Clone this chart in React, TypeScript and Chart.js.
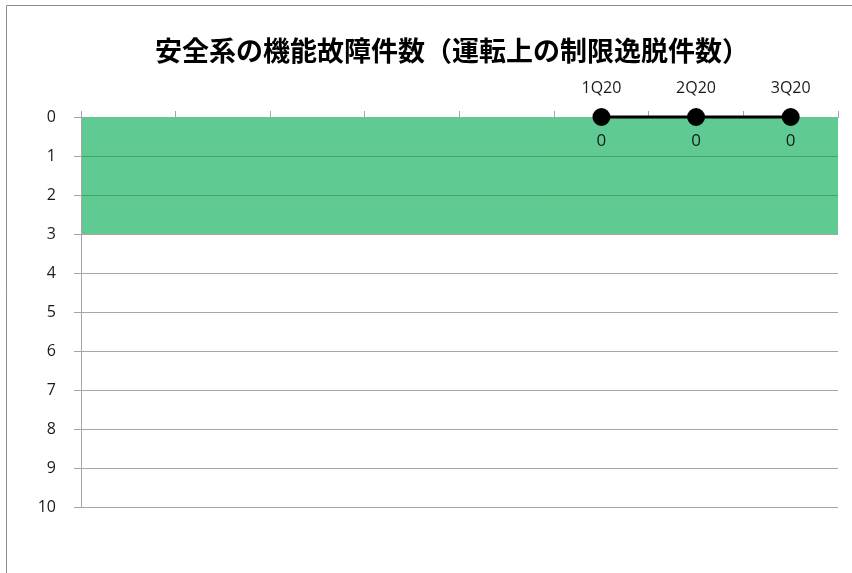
import React, { useEffect, useRef } from "react";
import { Chart, registerables } from "chart.js";

Chart.register(...registerables);

const chartTitle = "安全系の機能故障件数（運転上の制限逸脱件数）";
const categories = ["", "", "", "", "", "1Q20", "2Q20", "3Q20"];
const failureCounts: (number | null)[] = [null, null, null, null, null, 0, 0, 0];
const bandValues = [3, 3, 3, 3, 3, 3, 3, 3];
const yMin = 0;
const yMax = 10;
const yStep = 1;

const TICK_FONT = "'Open Sans', 'Noto Sans', sans-serif";
const GRID_GRAY = "#a6a6a6";

const framePlugin = {
  id: "frame",
  beforeDraw(chart: any) {
    const ctx = chart.ctx;
    ctx.save();
    ctx.strokeStyle = "#8c8c8c";
    ctx.lineWidth = 1;
    ctx.beginPath();
    ctx.moveTo(6.5, chart.height + 5);
    ctx.lineTo(6.5, 5.5);
    ctx.lineTo(chart.width + 5, 5.5);
    ctx.stroke();
    ctx.restore();
  },
};

const titlePlugin = {
  id: "centeredTitle",
  afterDraw(chart: any) {
    const ctx = chart.ctx;
    ctx.save();
    ctx.fillStyle = "#000";
    ctx.font = "bold 27px 'Noto Sans CJK JP', sans-serif";
    ctx.textAlign = "center";
    ctx.textBaseline = "middle";
    ctx.fillText(chartTitle, 452, 51);
    ctx.restore();
  },
};

const valueLabelPlugin = {
  id: "valueLabels",
  afterDatasetsDraw(chart: any) {
    const ctx = chart.ctx;
    const meta = chart.getDatasetMeta(1);
    const data = chart.data.datasets[1].data as (number | null)[];
    ctx.save();
    ctx.fillStyle = "#1a1a1a";
    ctx.font = `17px ${TICK_FONT}`;
    ctx.textAlign = "center";
    ctx.textBaseline = "middle";
    meta.data.forEach((pt: any, i: number) => {
      const v = data[i];
      if (v === null || v === undefined) return;
      ctx.fillText(String(v), pt.x, pt.y + 24);
    });
    ctx.restore();
  },
};

export default function App() {
  const ref = useRef<HTMLCanvasElement | null>(null);

  useEffect(() => {
    document.body.style.margin = "0";
    const canvas = ref.current;
    if (!canvas) return;
    const chart = new Chart(canvas, {
      type: "bar",
      data: {
        labels: categories,
        datasets: [
          {
            type: "bar",
            label: "band",
            data: bandValues,
            backgroundColor: "#5fcb92",
            borderWidth: 0,
            inflateAmount: 1,
            barPercentage: 1,
            categoryPercentage: 1,
            order: 2,
          } as any,
          {
            type: "line",
            label: "count",
            data: failureCounts,
            borderColor: "#000",
            backgroundColor: "#000",
            borderWidth: 3,
            pointRadius: 7.5,
            pointBackgroundColor: "#000",
            pointBorderColor: "#000",
            spanGaps: false,
            clip: false,
            order: 1,
          } as any,
        ],
      },
      options: {
        animation: false,
        responsive: true,
        maintainAspectRatio: false,
        layout: { padding: { left: 0, right: 14, top: 80, bottom: 66 } },
        plugins: {
          legend: { display: false },
          tooltip: { enabled: false },
          title: { display: false },
        },
        scales: {
          x: {
            position: "top",
            offset: true,
            grid: {
              offset: true,
              drawOnChartArea: false,
              drawTicks: true,
              tickLength: 6,
              color: GRID_GRAY,
            },
            border: { display: true, color: GRID_GRAY },
            ticks: {
              color: "#1a1a1a",
              font: { family: TICK_FONT, size: 16 },
              padding: 13,
              maxRotation: 0,
              autoSkip: false,
            },
            afterFit(scale: any) {
              scale.height = 37;
            },
          },
          y: {
            reverse: true,
            min: yMin,
            max: yMax,
            grid: {
              color: (c: any) => {
                const v = c.tick ? c.tick.value : 0;
                if (v === 0) return "rgba(0,0,0,0)";
                if (v > 0 && v < 3) return "#3fa466";
                return GRID_GRAY;
              },
              tickColor: GRID_GRAY,
              tickLength: 7,
              drawTicks: true,
              z: 1,
            },
            border: { display: true, color: GRID_GRAY, z: 1 },
            ticks: {
              stepSize: yStep,
              color: "#1a1a1a",
              font: { family: TICK_FONT, size: 16 },
              padding: 18,
            },
            afterFit(scale: any) {
              scale.width = 81;
            },
          },
        },
      },
      plugins: [framePlugin, valueLabelPlugin, titlePlugin],
    });
    return () => chart.destroy();
  }, []);

  return (
    <div style={{ position: "relative", width: 852, height: 573 }}>
      <canvas ref={ref} />
    </div>
  );
}
